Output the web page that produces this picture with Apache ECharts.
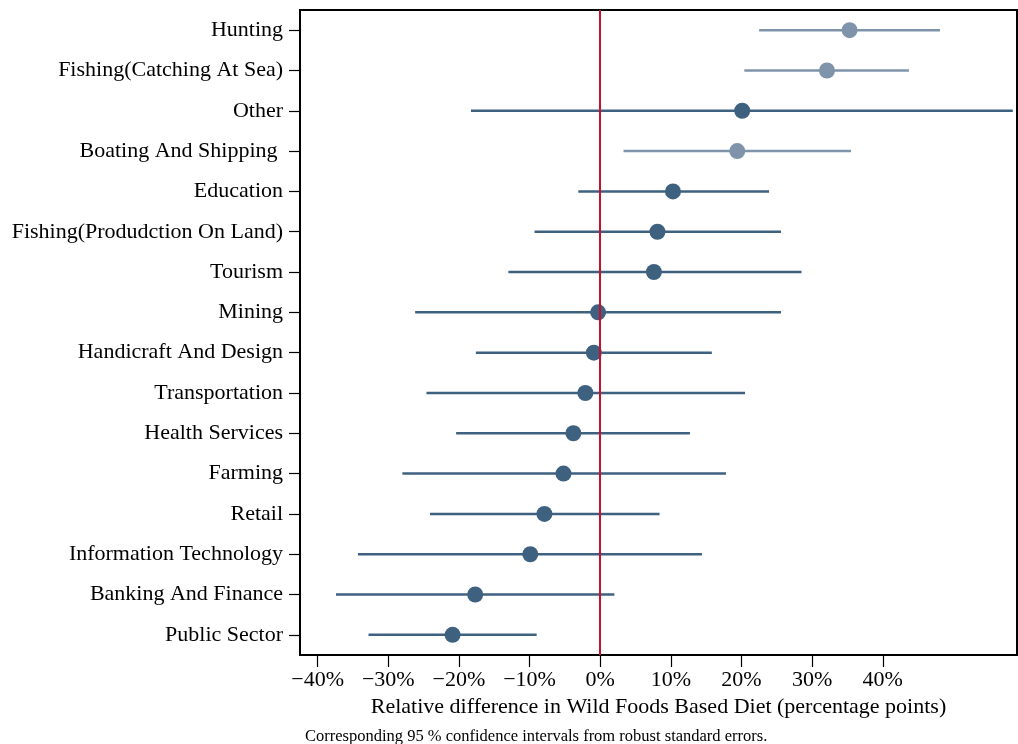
<!DOCTYPE html>
<html><head><meta charset="utf-8">
<script src="https://cdn.jsdelivr.net/npm/echarts@6/dist/echarts.min.js"></script>
<style>html,body{margin:0;padding:0;background:#fff}#c{width:1018px;height:744px}</style>
</head><body><div id="c"></div>
<script>
const categories = ["Hunting","Fishing(Catching At Sea)","Other","Boating And Shipping ","Education","Fishing(Produdction On Land)","Tourism","Mining","Handicraft And Design","Transportation","Health Services","Farming","Retail","Information Technology","Banking And Finance","Public Sector"];
const estimates = [35.3, 32.1, 20.1, 19.4, 10.3, 8.1, 7.6, -0.3, -0.9, -2.1, -3.8, -5.2, -7.9, -9.9, -17.7, -20.9];
const ciLow  = [22.5, 20.4, -18.3, 3.3, -3.1, -9.3, -13.0, -26.2, -17.6, -24.6, -20.4, -28.0, -24.1, -34.3, -37.4, -32.8];
const ciHigh = [48.1, 43.7, 58.4, 35.5, 23.9, 25.6, 28.5, 25.6, 15.8, 20.5, 12.7, 17.8, 8.4, 14.4, 2.0, -9.0];
const xTicks = [-40, -30, -20, -10, 0, 10, 20, 30, 40];
const xTitle = "Relative difference in Wild Foods Based Diet (percentage points)";
const note = "Corresponding 95 % confidence intervals from robust standard errors.";

const dark = '#3e6180', light = '#7f94ab';
const colorOf = i => (ciLow[i] > 0) ? light : dark;
const fnt = '"Liberation Serif", "Times New Roman", serif';

const chart = echarts.init(document.getElementById('c'));
chart.setOption({
  animation: false,
  grid: {left: 300, right: 1, top: 10, bottom: 89, show: true, borderColor: '#000', borderWidth: 2},
  xAxis: {
    type: 'value', min: -42.5, max: 59,
    splitLine: {show: false},
    axisLine: {show: true, onZero: false, lineStyle: {color: '#000', width: 2}},
    axisTick: {show: true, length: 12, customValues: xTicks, lineStyle: {color: '#000', width: 1.2}},
    axisLabel: {customValues: xTicks, color: '#000', fontFamily: fnt, fontSize: 22, margin: 14,
      formatter: v => (v < 0 ? '\u2212' + Math.abs(v) : v) + '%'},
    name: xTitle, nameLocation: 'middle', nameGap: 39,
    nameTextStyle: {color: '#000', fontFamily: fnt, fontSize: 22}
  },
  yAxis: {
    type: 'category', data: categories, inverse: true,
    axisLine: {show: true, onZero: false, lineStyle: {color: '#000', width: 2}},
    axisTick: {show: true, alignWithLabel: true, length: 11, lineStyle: {color: '#000', width: 1.2}},
    axisLabel: {color: '#000', fontFamily: fnt, fontSize: 22, margin: 17, padding: [3, 0, 0, 0]},
    splitLine: {show: false}
  },
  graphic: [{type: 'text', left: 305, top: 728, style: {text: note, fontFamily: fnt, fontSize: 16.5, fill: '#000'}}],
  series: [
    {
      type: 'custom', z: 2,
      data: categories.map((c, i) => [i, ciLow[i], ciHigh[i]]),
      encode: {x: [1, 2], y: 0},
      renderItem: (params, api) => {
        const i = api.value(0);
        const p1 = api.coord([api.value(1), i]);
        const p2 = api.coord([api.value(2), i]);
        return {type: 'line', shape: {x1: p1[0], y1: p1[1], x2: p2[0], y2: p2[1]},
          style: {stroke: colorOf(i), lineWidth: 2.5}};
      }
    },
    {
      type: 'scatter', z: 3, symbolSize: 16,
      data: estimates.map((v, i) => ({value: [v, i], itemStyle: {color: colorOf(i), opacity: 1}})),
      markLine: {silent: true, symbol: 'none', label: {show: false}, z: 4,
        lineStyle: {color: '#c8102e', width: 2, type: 'solid'}, data: [{xAxis: 0}]}
    }
  ]
});
</script></body></html>
